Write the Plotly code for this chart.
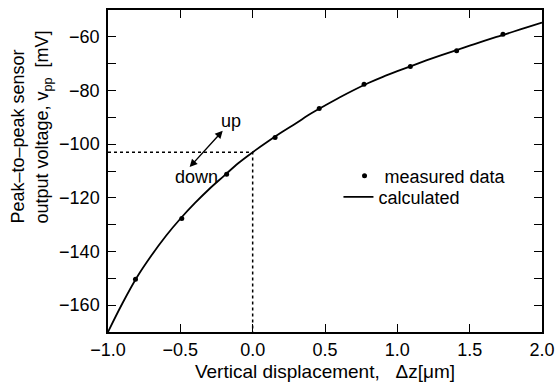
import plotly.graph_objects as go

# ---- data ----
meas_dz = [-0.81, -0.49, -0.18, 0.155, 0.46, 0.77, 1.09, 1.41, 1.73]
meas_v = [-150.3, -127.7, -111.2, -97.5, -86.7, -77.7, -71.1, -65.2, -59.0]

calc_dz = [-1.0, -0.9, -0.8, -0.7, -0.6, -0.5, -0.4, -0.3, -0.2, -0.1, 0.0,
           0.1, 0.2, 0.3, 0.4, 0.5, 0.6, 0.7, 0.8, 0.9, 1.0,
           1.1, 1.2, 1.3, 1.4, 1.5, 1.6, 1.7, 1.8, 1.9, 2.0]
calc_v = [-170.0, -159.3, -149.6, -141.5, -134.2, -127.8, -122.0, -116.7, -111.9, -107.1, -103.0,
          -99.2, -95.6, -92.2, -88.7, -85.6, -82.6, -79.8, -77.2, -74.9, -72.8,
          -70.8, -68.8, -66.9, -65.1, -63.3, -61.5, -59.8, -58.1, -56.4, -54.7]

op_dz = 0.0
op_v = -103.0

x_range = [-1.0, 2.0]
y_range = [-170, -50]
x_ticks = [-1.0, -0.5, 0.0, 0.5, 1.0, 1.5, 2.0]
y_ticks = [-160, -140, -120, -100, -80, -60]

FONT = "Liberation Sans, Arial, Helvetica, sans-serif"
fs = 18

fig = go.Figure()

# dotted guide to operating point
fig.add_trace(go.Scatter(
    x=[x_range[0], op_dz, op_dz], y=[op_v, op_v, y_range[0]],
    mode="lines", line=dict(color="black", width=1.5, dash="dot"),
    showlegend=False, hoverinfo="skip"))

fig.add_trace(go.Scatter(
    x=calc_dz, y=calc_v, mode="lines", name="calculated",
    line=dict(color="black", width=1.8, shape="spline"), legend="legend2"))

fig.add_trace(go.Scatter(
    x=meas_dz, y=meas_v, mode="markers", name="measured data",
    marker=dict(color="black", size=5), legend="legend"))

axis_common = dict(showline=True, linecolor="black", linewidth=1.5, mirror="ticks",
                   ticks="inside", ticklen=8, tickwidth=1.2, tickcolor="black",
                   showgrid=False, zeroline=False, automargin=False,
                   tickfont=dict(family=FONT, size=fs, color="black"))

fig.update_xaxes(range=x_range, tickvals=x_ticks, tickformat=".1f",
                 title=dict(text="Vertical displacement,\u00a0\u00a0\u00a0Δz[μm]",
                            font=dict(family=FONT, size=19, color="black"), standoff=5),
                 ticklabelstandoff=1, **axis_common)
fig.update_yaxes(range=y_range, tickvals=y_ticks,
                 minor=dict(dtick=10, tick0=-170, ticks="inside", ticklen=8,
                            tickwidth=1.2, tickcolor="black", showgrid=False),
                 ticklabelstandoff=3, **axis_common)

annots = [
    dict(x=-0.207, y=-95.0, ax=-0.445, ay=-109.1, xref="x", yref="y", axref="x", ayref="y",
         text="", showarrow=True, arrowhead=2, startarrowhead=2, arrowside="end+start",
         arrowsize=1.1, startarrowsize=1.1, arrowwidth=1.4, arrowcolor="black"),
    dict(x=-0.15, y=-91.4, xref="x", yref="y", text="up", showarrow=False,
         font=dict(family=FONT, size=fs, color="black")),
    dict(x=-0.385, y=-112.3, xref="x", yref="y", text="down", showarrow=False,
         font=dict(family=FONT, size=fs, color="black")),
    dict(x=-0.1775, y=0.638, xref="paper", yref="paper", xanchor="center", yanchor="middle",
         text="Peak\u2013to\u2013peak sensor<br>output voltage, v<sub>pp</sub>  [mV]",
         textangle=-90, align="left", showarrow=False,
         font=dict(family=FONT, size=fs, color="black")),
]

leg_common = dict(xanchor="left", yanchor="middle", bgcolor="rgba(0,0,0,0)",
                  itemwidth=30, font=dict(family=FONT, size=fs, color="black"))

fig.update_layout(
    width=557, height=383,
    margin=dict(l=108, r=15, t=10, b=51, autoexpand=False),
    paper_bgcolor="white", plot_bgcolor="white",
    font=dict(family=FONT, size=fs, color="black"),
    annotations=annots,
    legend=dict(x=0.545, y=0.484, **leg_common),
    legend2=dict(x=0.531, y=0.419, **leg_common),
)

fig.write_html("out.html")
